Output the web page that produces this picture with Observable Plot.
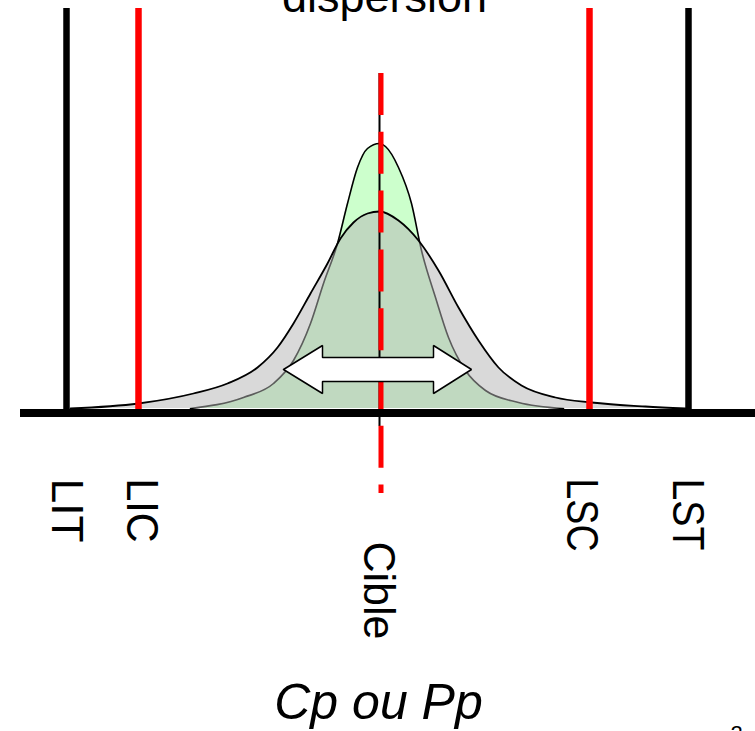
<!DOCTYPE html>
<html>
<head>
<meta charset="utf-8">
<script src="https://cdn.jsdelivr.net/npm/d3@7"></script>
<script src="https://cdn.jsdelivr.net/npm/@observablehq/plot@0.6"></script>
<style>
  html, body { margin: 0; padding: 0; background: white; overflow: hidden; }
  #chart svg { display: block; }
</style>
</head>
<body>
<div id="chart"></div>
<script>
// ---- data (x in process units, target = 0; y in density units) ----
const title = "dispersion";
const xTitle = "Cp ou Pp";
const limitNames  = ["LIT", "LIC", "LSC", "LST"];
const limitValues = [-3.13, -2.41, 2.10, 3.09];
const targetName = "Cible";
const targetValue = 0;

// wide distribution (process spread)
const wideX = [-3.09, -2.41, -1.86, -1.52, -1.22, -1.02, -0.86, -0.69, -0.52, -0.39, -0.26, -0.12, 0.0, 0.19, 0.39, 0.59, 0.79, 0.99, 1.19, 1.42, 1.76, 2.12, 2.66, 3.06];
const wideY = [0.0, 0.025, 0.075, 0.125, 0.205, 0.305, 0.425, 0.575, 0.725, 0.85, 0.93, 0.975, 0.985, 0.94, 0.84, 0.69, 0.505, 0.34, 0.205, 0.115, 0.055, 0.03, 0.01, 0.0];

// narrow distribution
const narrowX = [-1.89, -1.36, -1.06, -0.86, -0.69, -0.56, -0.42, -0.32, -0.22, -0.12, 0.0, 0.06, 0.19, 0.32, 0.42, 0.56, 0.69, 0.86, 1.06, 1.39, 1.84];
const narrowY = [0.0, 0.055, 0.125, 0.24, 0.425, 0.625, 0.825, 1.025, 1.205, 1.30, 1.325, 1.31, 1.205, 1.025, 0.79, 0.555, 0.355, 0.19, 0.09, 0.03, 0.0];

// double arrow outline (dispersion width)
const arrowX = [-0.96, -0.57, -0.57, 0.54, 0.54, 0.92, 0.54, 0.54, -0.57, -0.57, -0.96];
const arrowY = [0.195, 0.315, 0.255, 0.255, 0.315, 0.195, 0.075, 0.135, 0.135, 0.075, 0.195];

// ---- build tables ----
const wide = wideX.map((x, i) => ({x, y: wideY[i]}));
const narrow = narrowX.map((x, i) => ({x, y: narrowY[i]}));
const arrow = arrowX.map((x, i) => ({x, y: arrowY[i]}));
const limits = limitNames.map((name, i) => ({name, value: limitValues[i]}));

const RED = "#ff0000";
const textFont = "'Liberation Sans', Arial, sans-serif";
const labelDx = {LIT: 0, LIC: 3, LSC: -8, LST: -1};
// rendered lengths of the rotated labels (layout, pixels)
const labelLength = {LIT: 64, LIC: 64, LSC: 73, LST: 72, Cible: 98};

const chart = Plot.plot({
  width: 755,
  height: 731,
  margin: 0,
  style: {background: "white", overflow: "visible"},
  x: {domain: [-3.79, 3.76], axis: null},
  y: {domain: [-1.615, 2.04], axis: null},
  marks: [
    Plot.areaY(narrow, {x: "x", y: "y", fill: "#ccffcc", curve: "monotone-x"}),
    Plot.line(narrow, {x: "x", y: "y", stroke: "black", strokeWidth: 1.6, curve: "monotone-x"}),
    Plot.areaY(wide, {x: "x", y: "y", fill: "#b4b4b4", fillOpacity: 0.51, curve: "monotone-x"}),
    Plot.line(wide, {x: "x", y: "y", stroke: "black", strokeWidth: 1.8, curve: "monotone-x"}),
    Plot.ruleX(limits, {x: "value", y1: -0.02, y2: 2.0, stroke: d => (d.name === "LIC" || d.name === "LSC") ? RED : "black", strokeWidth: 6.5}),
    Plot.ruleX([targetValue], {x: d => d, y1: 1.675, y2: -0.09, stroke: "black", strokeWidth: 2}),
    Plot.ruleX([targetValue], {x: d => d, dx: 1.5, y1: 1.675, y2: -0.425, stroke: RED, strokeWidth: 5, strokeDasharray: "42,16.8"}),
    Plot.line(arrow, {x: "x", y: "y", fill: "white", stroke: "black", strokeWidth: 1.5, strokeLinejoin: "miter"}),
    Plot.ruleY([0], {y: () => -0.022, x1: -3.59, x2: 3.76, stroke: "black", strokeWidth: 8}),
    // title (cut at the top)
    Plot.text([title], {x: 0.05, y: 1.985, text: d => d, lineAnchor: "bottom", textAnchor: "middle", fontSize: 45, fontFamily: textFont, fill: "black"}),
    // limit labels, rotated
    ...limits.map(d => Plot.text([d], {x: "value", y: -0.35, text: "name", rotate: 90, textAnchor: "start", lineAnchor: "middle", dx: labelDx[d.name], fontSize: 45, fontFamily: textFont, fill: "black"})),
    Plot.text([targetName], {x: targetValue, y: -0.665, text: d => d, rotate: 90, textAnchor: "start", lineAnchor: "middle", dx: -1, fontSize: 44, fontFamily: textFont, fill: "black"}),
    // axis title
    Plot.text([xTitle], {x: -0.01, y: -1.55, text: d => d, lineAnchor: "bottom", textAnchor: "middle", fontSize: 50, fontStyle: "italic", fontFamily: textFont, fill: "black"}),
    // page number (mostly cut off)
    Plot.text(["2"], {x: 3.57, y: -1.66, text: d => d, lineAnchor: "bottom", textAnchor: "middle", fontSize: 22, fontFamily: textFont, fill: "black"})
  ]
});
// fit the rotated labels to the lengths seen in the reference
chart.querySelectorAll("text").forEach(t => {
  const len = labelLength[t.textContent];
  if (len) {
    t.setAttribute("textLength", len);
    t.setAttribute("lengthAdjust", "spacingAndGlyphs");
  }
});
document.getElementById("chart").appendChild(chart);
</script>
</body>
</html>
